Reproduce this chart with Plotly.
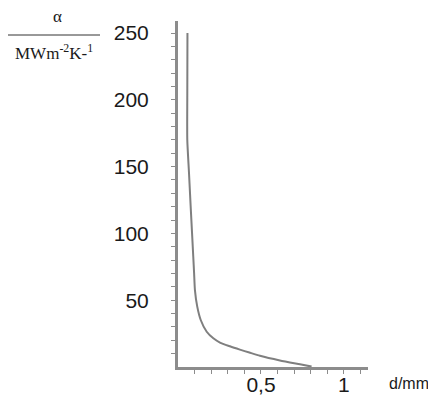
import plotly.graph_objects as go

# data
d_mm = [0.057, 0.056, 0.056, 0.066, 0.076, 0.086, 0.092, 0.097, 0.102, 0.116, 0.137, 0.173,
        0.213, 0.253, 0.313, 0.373, 0.430, 0.494, 0.614, 0.735, 0.805]
alpha = [250, 203, 170, 146, 121, 97, 82.5, 70.3, 57.6, 45.2, 35.2, 26.4,
         21.5, 18.3, 15.5, 13.0, 10.8, 8.4, 4.9, 2.0, 0.3]

y_tick_vals = list(range(10, 251, 10))
y_labelled = [50, 100, 150, 200, 250]
y_tick_text = [str(v) if v in y_labelled else "" for v in y_tick_vals]

x_tick_vals = [round(0.1 * i, 1) for i in range(1, 12)]
x_labels = {0.5: "0,5", 1.0: "1"}
x_tick_text = [x_labels.get(v, "") for v in x_tick_vals]

axis_col = "#8c8c8c"
line_col = "#7f7f7f"

# the page body has an 8px margin; the figure is sized/placed to compensate
OFF = 8
W, H = 436 - OFF, 397 - OFF
ML, MT = 178 - OFF, 21 - OFF
PR, PB = 368 - OFF, 367 - OFF   # plot right / bottom edges in figure px
MR, MB = W - PR, H - PB

fig = go.Figure()
fig.add_trace(go.Scatter(x=d_mm, y=alpha, mode="lines",
                         line=dict(color=line_col, width=2, shape="spline", smoothing=0.6),
                         showlegend=False, hoverinfo="skip"))

fig.update_layout(
    width=W, height=H, autosize=False,
    margin=dict(l=ML, r=MR, t=MT, b=MB, pad=0),
    paper_bgcolor="white", plot_bgcolor="white",
    font=dict(family="Liberation Sans, Arial, sans-serif", color="#1a1a1a"),
)
fig.update_xaxes(range=[0, 1.145], showgrid=False, zeroline=False, automargin=False,
                 showline=True, linecolor=axis_col, linewidth=3,
                 ticks="outside", ticklen=4, tickwidth=1, tickcolor=axis_col,
                 tickvals=x_tick_vals, ticktext=x_tick_text,
                 tickfont=dict(size=21, color="#1a1a1a"), ticklabelstandoff=-7)
fig.update_yaxes(range=[0, 259], showgrid=False, zeroline=False, automargin=False,
                 showline=True, linecolor=axis_col, linewidth=3,
                 ticks="outside", ticklen=4, tickwidth=1, tickcolor=axis_col,
                 tickvals=y_tick_vals, ticktext=y_tick_text,
                 tickfont=dict(size=21, color="#1a1a1a"), ticklabelstandoff=18)

plot_w = W - ML - MR
plot_h = H - MT - MB


def px_to_domain(px, py):
    # px, py given in page (screenshot) pixels
    return (px - OFF - ML) / plot_w, (H - MB - (py - OFF)) / plot_h


serif = "Liberation Serif, Times New Roman, serif"
sans = "Liberation Sans, Arial, sans-serif"

# x-axis unit label
dx, dy = px_to_domain(387, 384)
fig.add_annotation(text="d/mm", xref="x domain", yref="y domain", x=dx, y=dy,
                   xanchor="left", yanchor="middle", showarrow=False,
                   font=dict(size=16, family=sans, color="#1a1a1a"))

# y-axis label as a fraction
ax, ay = px_to_domain(57, 17)
fig.add_annotation(text="α", xref="x domain", yref="y domain", x=ax, y=ay,
                   xanchor="center", yanchor="middle", showarrow=False,
                   font=dict(size=17, family=serif, color="#1a1a1a"))
mx, my = px_to_domain(54, 52)
fig.add_annotation(text="MWm<sup>-2</sup>K-<sup>1</sup>", xref="x domain", yref="y domain",
                   x=mx, y=my, xanchor="center", yanchor="middle", showarrow=False,
                   font=dict(size=17, family=serif, color="#1a1a1a"))

x0, y0 = px_to_domain(8, 35)
x1, _ = px_to_domain(100, 35)
fig.add_shape(type="line", xref="x domain", yref="y domain", x0=x0, x1=x1, y0=y0, y1=y0,
              line=dict(color="#333333", width=1))

fig.write_html("out.html")
